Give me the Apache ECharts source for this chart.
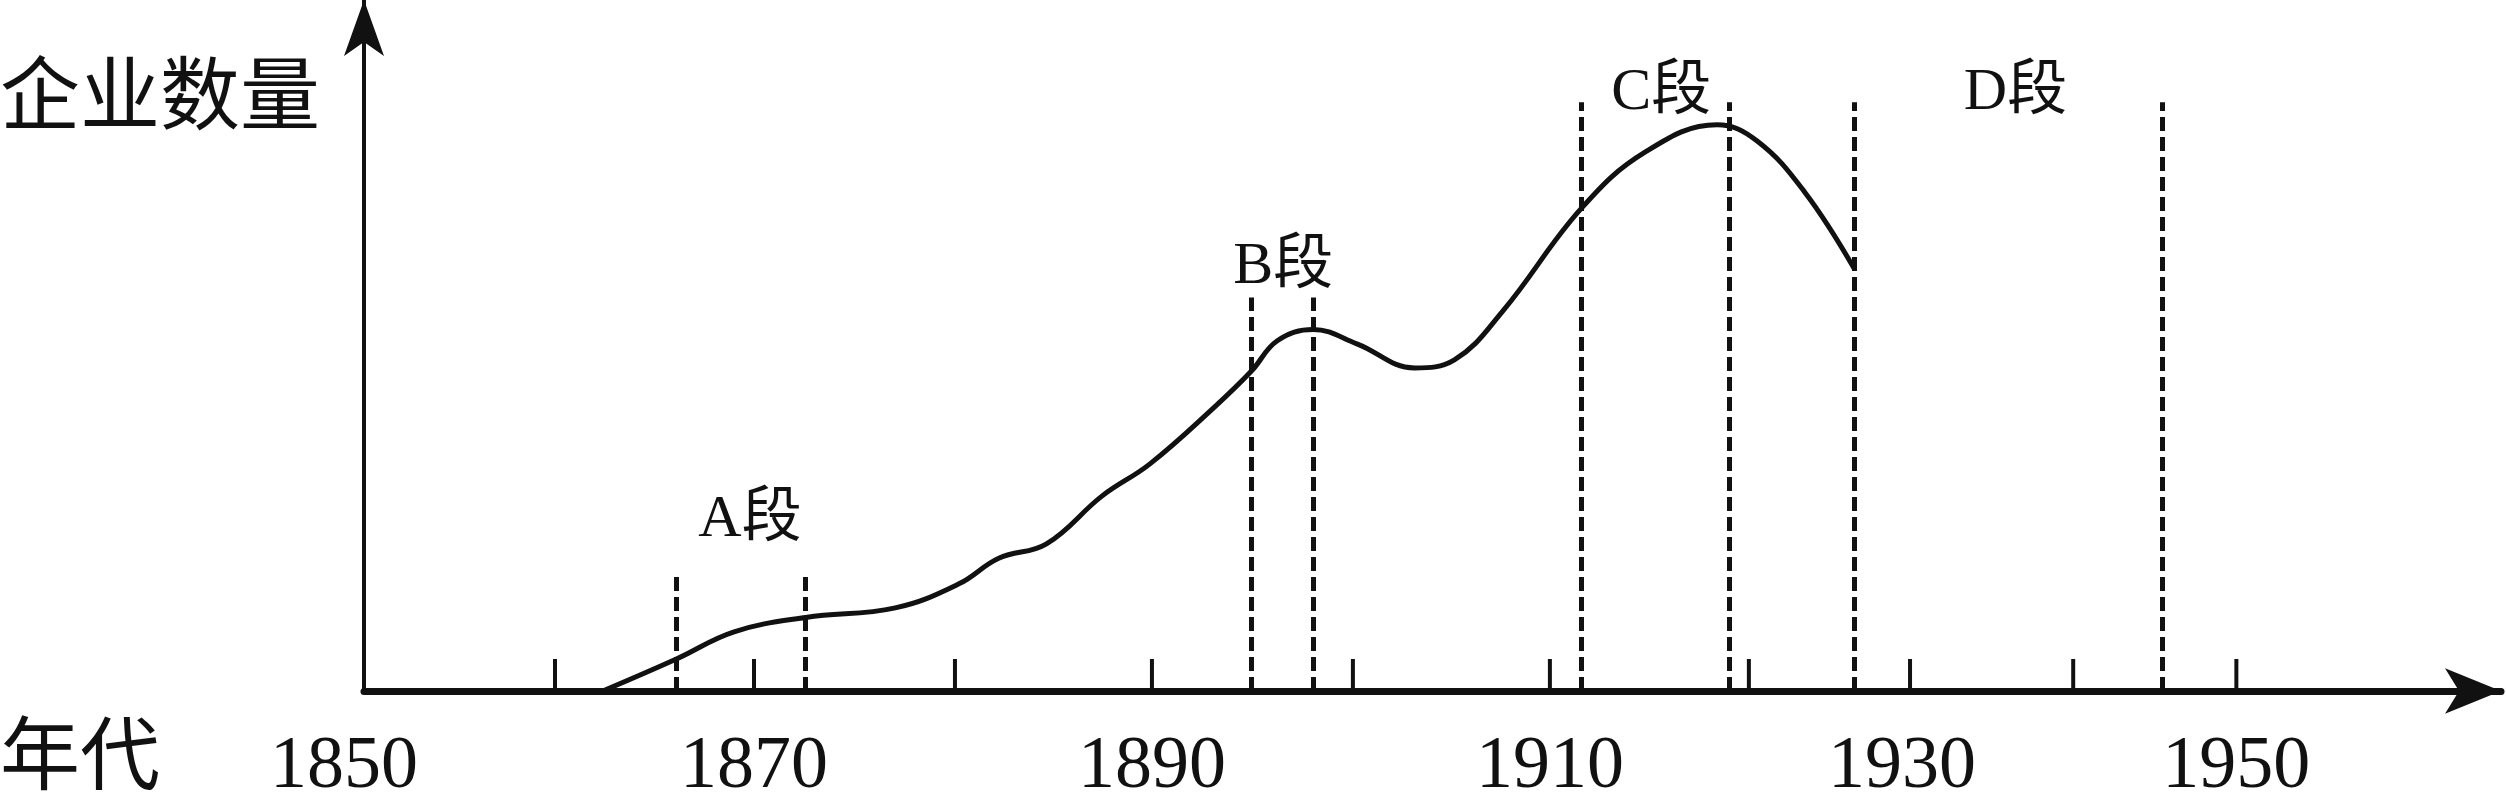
<!DOCTYPE html>
<html>
<head>
<meta charset="UTF-8">
<script src="https://cdn.jsdelivr.net/npm/echarts@6/dist/echarts.min.js"></script>
<style>
  * {margin: 0; padding: 0;}
  html, body {width: 100%; height: 100%; background: #fff; overflow: hidden;}
  #chart {width: 2506px; height: 806px;}
</style>
</head>
<body>
<div id="chart"></div>
<script>
// x is position along the axis in "years" (the drawing is not to scale), y is relative count
var curveX = [1862.0, 1865.7, 1868.6, 1872.2, 1876.7, 1879.9, 1881.9, 1884.3, 1887.1, 1889.5, 1892.7, 1894.6, 1895.9, 1897.7, 1899.9, 1902.8, 1904.8, 1907.2, 1911.2, 1914.4, 1918.0, 1920.0, 1922.4, 1924.9]
var curveY = [0, 20, 37, 46, 52, 67, 83, 92, 122, 142, 177, 200, 219, 226, 217, 202, 207, 237, 302, 337, 354, 344, 312, 264]
var dashX = [1865.7, 1872.2, 1894.6, 1897.7, 1911.2, 1918.6, 1924.9, 1940.4]
var dashTop = [72, 72, 246, 246, 368, 368, 368, 368]
var tickX = [1859.6, 1869.6, 1879.7, 1889.6, 1899.7, 1909.6, 1919.6, 1927.7, 1935.9, 1944.1]
var tickLabelX = [1849.0, 1869.6, 1889.6, 1909.6, 1927.3, 1944.1]
var tickLabels = ['1850', '1870', '1890', '1910', '1930', '1950']
var segNames = ['A段', 'B段', 'C段', 'D段']
var segX = [1869.4, 1896.2, 1915.2, 1933.0]
var segY = [107, 265, 374, 374]

var font = 'Liberation Serif, Noto Sans CJK SC'
var chart = echarts.init(document.getElementById('chart'))

var dashData = dashX.map(function (x, i) {
  return [{coord: [x, 0]}, {coord: [x, dashTop[i]]}]
})

chart.setOption({
  animation: false,
  grid: {left: 364, right: 5, top: 0, bottom: 115},
  xAxis: {
    type: 'value', min: 1850, max: 1957.4,
    axisLine: {onZero: false, lineStyle: {color: '#111', width: 7}, symbol: ['none', 'arrow'], symbolSize: [34, 56]},
    axisTick: {show: false}, axisLabel: {show: false}, splitLine: {show: false}
  },
  yAxis: {
    type: 'value', min: 0, max: 432,
    axisLine: {show: true, lineStyle: {color: '#111', width: 4}, symbol: ['none', 'arrow'], symbolSize: [30, 56]},
    axisTick: {show: false}, axisLabel: {show: false}, splitLine: {show: false}
  },
  graphic: [
    {type: 'text', left: 0, top: 62, style: {text: '企业数量', font: '80px ' + font, fill: '#111'}},
    {type: 'text', left: 0, top: 722, style: {text: '年代', font: '80px ' + font, fill: '#111'}}
  ],
  series: [
    {
      type: 'line', smooth: 0.4, symbol: 'none',
      data: curveX.map(function (x, i) { return [x, curveY[i]] }),
      lineStyle: {color: '#111', width: 5},
      markLine: {
        silent: true, symbol: 'none', label: {show: false},
        lineStyle: {color: '#111', type: [14, 6], width: 5},
        data: dashData
      }
    },
    {
      type: 'custom', clip: false, silent: true,
      data: tickX,
      renderItem: function (params, api) {
        var a = api.coord([api.value(0), 0])
        var b = api.coord([api.value(0), 20])
        return {type: 'line', shape: {x1: a[0], y1: a[1], x2: b[0], y2: b[1]}, style: {stroke: '#111', lineWidth: 4}}
      }
    },
    {
      type: 'custom', clip: false, silent: true,
      data: tickLabelX.map(function (x, i) { return [x, tickLabels[i]] }),
      renderItem: function (params, api) {
        var p = api.coord([tickLabelX[params.dataIndex], -48])
        return {type: 'text', x: p[0], y: p[1], style: {text: tickLabels[params.dataIndex], font: '74px ' + font, fill: '#111', align: 'center', verticalAlign: 'middle'}}
      }
    },
    {
      type: 'scatter', symbolSize: 1, silent: true,
      itemStyle: {opacity: 1, color: 'rgba(0,0,0,0)'},
      data: segX.map(function (x, i) { return {value: [x, segY[i]], name: segNames[i]} }),
      label: {show: true, position: 'inside', formatter: '{b}', fontFamily: font, fontSize: 60, color: '#111', opacity: 1}
    }
  ]
})
</script>
</body>
</html>
